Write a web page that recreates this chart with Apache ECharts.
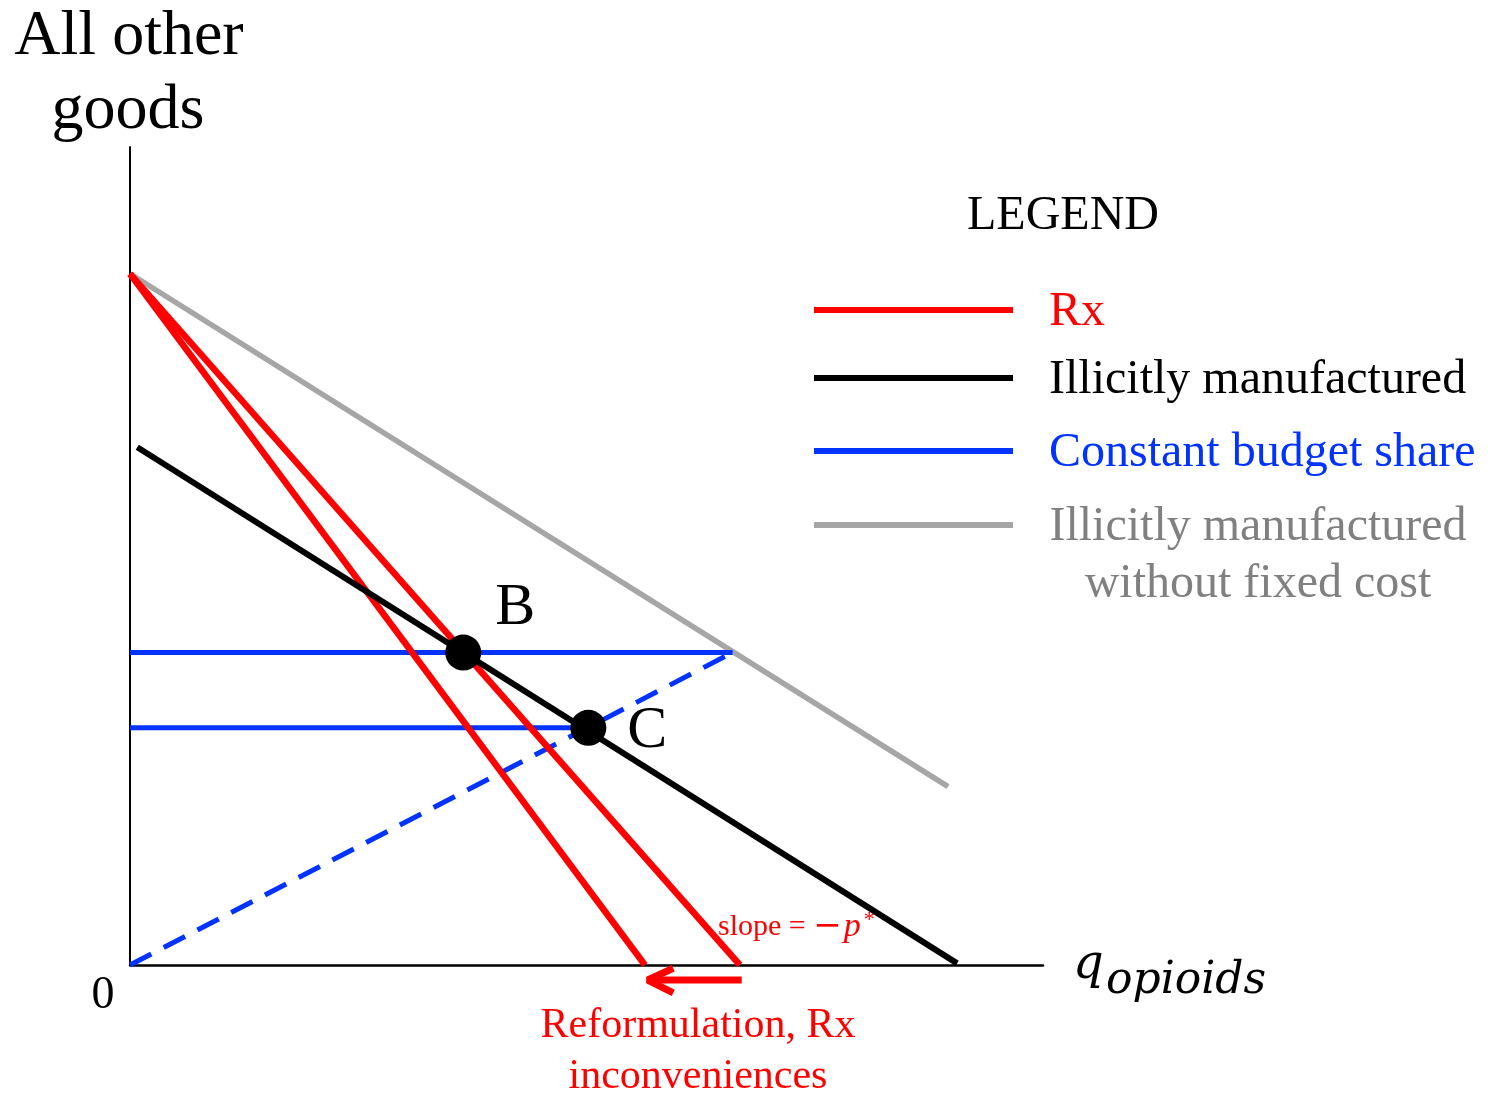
<!DOCTYPE html>
<html>
<head>
<meta charset="utf-8">
<script src="https://cdn.jsdelivr.net/npm/echarts@6/dist/echarts.min.js"></script>
<style type="text/css">
html, body{margin: 0; padding: 0; background: #fff;}
#main{width: 1499px; height: 1094px;}
</style>
</head>
<body>
<div id="main"></div>
<script>
// budget lines, in axis units (0-100 on both axes)
var rxBefore = [[0, 84.5], [66.8, 0]];
var rxAfter = [[0, 84.5], [56.4, 0]];
var illicit = [[0.8, 63.3], [90.6, 0.2]];
var illicitNoFixed = [[0, 84.5], [89.6, 21.8]];
var shareB = [[0, 38.2], [66.0, 38.2]];
var shareC = [[0, 29.0], [50.2, 29.0]];
var shareRay = [[0, 0], [66.0, 38.2]];
var points = [[36.5, 38.2], [50.2, 29.0]];
var pointNames = ['B', 'C'];
// shift arrow under the x axis
var arrowShaft = [[67.0, -1.84], [56.9, -1.84]];
var arrowHead = [[59.5, -0.4], [56.7, -1.84], [59.5, -3.4]];

var serif = '"Liberation Serif", "Times New Roman", serif';

function seg(data, color, width, type){
    return {
        type: 'line',
        data: data,
        symbol: 'none',
        silent: true,
        clip: false,
        z: 2,
        lineStyle: {color: color, width: width, type: type || 'solid', cap: 'butt'}
    };
}

var legendRows = [
    {text: 'Rx', color: '#ff0000', y: 310},
    {text: 'Illicitly manufactured', color: '#000000', y: 378},
    {text: 'Constant budget share', color: '#0033ff', y: 451},
    {text: 'Illicitly manufactured', color: '#a6a6a6', y: 525}
];

var graphics = [
    {type: 'text', x: 129, y: 37, style: {text: 'All other', font: '64px ' + serif, fill: '#000', align: 'center', verticalAlign: 'middle'}},
    {type: 'text', x: 128, y: 111, style: {text: 'goods', font: '64px ' + serif, fill: '#000', align: 'center', verticalAlign: 'middle'}},
    {type: 'text', x: 103, y: 996, style: {text: '0', font: '46px ' + serif, fill: '#000', align: 'center', verticalAlign: 'middle'}},
    {type: 'text', x: 1073, y: 966, style: {text: 'q', font: 'italic 48px "DejaVu Serif", serif', fill: '#000', align: 'left', verticalAlign: 'middle'}},
    {type: 'text', x: 1106, y: 982, style: {text: 'opioids', font: 'italic 44px "DejaVu Serif", serif', fill: '#000', align: 'left', verticalAlign: 'middle'}},
    {type: 'text', x: 718, y: 927, z: 100, style: {
        text: '{a|slope = }{m|−}{b|p}{c|*}',
        verticalAlign: 'middle', align: 'left',
        rich: {
            a: {font: '30px ' + serif, fill: '#ff0000'},
            m: {font: '34px "DejaVu Serif", serif', fill: '#ff0000'},
            b: {font: 'italic 34px ' + serif, fill: '#ff0000', padding: [0, 0, 0, 2]},
            c: {font: '22px ' + serif, fill: '#ff0000', verticalAlign: 'top', padding: [0, 0, 14, 3]}
        }
    }},
    {type: 'text', x: 698, y: 1026, style: {text: 'Reformulation, Rx', font: '42px ' + serif, fill: '#ff0000', align: 'center', verticalAlign: 'middle'}},
    {type: 'text', x: 698, y: 1077, style: {text: 'inconveniences', font: '42px ' + serif, fill: '#ff0000', align: 'center', verticalAlign: 'middle'}},
    {type: 'text', x: 1063, y: 216, style: {text: 'LEGEND', font: '48px ' + serif, fill: '#000', align: 'center', verticalAlign: 'middle'}},
    {type: 'text', x: 1258, y: 584, style: {text: 'without fixed cost', font: '48px ' + serif, fill: '#808080', align: 'center', verticalAlign: 'middle'}}
];
legendRows.forEach(function(r, i){
    graphics.push({type: 'line', shape: {x1: 814, y1: r.y, x2: 1013, y2: r.y}, style: {stroke: r.color, lineWidth: 6}});
    var tc = i === 3 ? '#808080' : r.color;
    graphics.push({type: 'text', x: i === 3 ? 1258 : 1049, y: r.y + 2, style: {
        text: r.text, font: '48px ' + serif, fill: tc,
        align: i === 3 ? 'center' : 'left', verticalAlign: 'middle'
    }});
});

var chart = echarts.init(document.getElementById('main'));
chart.setOption({
    animation: false,
    backgroundColor: '#fff',
    grid: {left: 130, right: 456, top: 147, bottom: 129},
    xAxis: {
        type: 'value', min: 0, max: 100,
        axisLine: {show: true, lineStyle: {color: '#000', width: 2.5}},
        axisTick: {show: false}, axisLabel: {show: false}, splitLine: {show: false}
    },
    yAxis: {
        type: 'value', min: 0, max: 100,
        axisLine: {show: true, lineStyle: {color: '#000', width: 2}},
        axisTick: {show: false}, axisLabel: {show: false}, splitLine: {show: false}
    },
    series: [
        seg(illicitNoFixed, '#a6a6a6', 5.5),
        seg(shareRay, '#0033ff', 5, [24, 14]),
        seg(shareB, '#0033ff', 5),
        seg(shareC, '#0033ff', 5),
        seg(rxAfter, '#ff0000', 6.5),
        seg(rxBefore, '#ff0000', 6.5),
        seg(illicit, '#000000', 6),
        seg(arrowShaft, '#ff0000', 7),
        seg(arrowHead, '#ff0000', 7),
        {
            type: 'scatter',
            z: 10,
            data: points.map(function(p, i){ return {name: pointNames[i], value: p}; }),
            symbolSize: 36,
            itemStyle: {color: '#000', opacity: 1, borderWidth: 0},
            silent: true,
            label: {
                show: true,
                formatter: '{b}',
                fontFamily: serif, fontSize: 60, color: '#000',
                position: [0, 0]
            },
            labelLayout: function(params){
                var i = params.dataIndex;
                var off = i === 0 ? [52, -44] : [59, 3];
                return {x: params.rect.x + params.rect.width / 2 + off[0], y: params.rect.y + params.rect.height / 2 + off[1], align: 'center', verticalAlign: 'middle'};
            }
        }
    ],
    graphic: graphics
});
</script>
</body>
</html>
